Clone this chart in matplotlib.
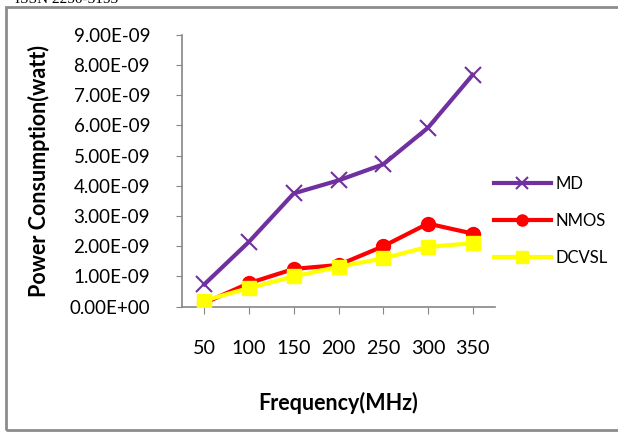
import matplotlib.pyplot as plt
import matplotlib.patches as mpatches
import numpy as np

plt.rcParams['font.family'] = ['Lato', 'DejaVu Sans']

freq = ["50", "100", "150", "200", "250", "300", "350"]
md = [0.74e-9, 2.15e-9, 3.75e-9, 4.18e-9, 4.71e-9, 5.92e-9, 7.67e-9]
nmos = [0.12e-9, 0.78e-9, 1.25e-9, 1.38e-9, 2.0e-9, 2.75e-9, 2.42e-9]
dcvsl = [0.2e-9, 0.62e-9, 1.0e-9, 1.32e-9, 1.6e-9, 1.98e-9, 2.1e-9]

fig = plt.figure(figsize=(6.18, 4.33), dpi=100)
ax = fig.add_axes([182/618, 1 - 306.7/433, 313/618, 272/433])

# outer chart frame (runs off the right edge)
fig.patches.append(mpatches.Rectangle((6/618, 1 - 429.5/433), 630/618, 422.5/433,
                                      transform=fig.transFigure, fill=False,
                                      edgecolor="#8c8c8c", linewidth=2))
fig.text(118/618, 1 - 3/433, "ISSN 2250-3153", ha="right", va="baseline",
         fontsize=11, family="Liberation Serif")

x = np.arange(len(freq))
ax.plot(x, md, color="#7030A0", lw=3, marker="x", ms=11, mew=1.5, label="MD", zorder=3)
ax.plot(x, nmos, color="#FF0000", lw=3, marker="o", ms=10, label="NMOS", zorder=4)
ax.plot(x, dcvsl, color="#FFFF00", lw=3, marker="s", ms=10, label="DCVSL", zorder=5)

ax.set_xlim(-0.5, 6.5)
ax.set_ylim(0, 9e-9)
yt = np.arange(0, 9.5e-9, 1e-9)
ax.set_yticks(yt)
ax.set_yticklabels([f"{v:.2E}" for v in yt])
ax.set_xticks(x)
ax.set_xticklabels(freq)

for s in ["top", "right"]:
    ax.spines[s].set_visible(False)
for s in ["left", "bottom"]:
    ax.spines[s].set_color("#868686")
    ax.spines[s].set_linewidth(1.2)
ax.tick_params(axis="y", length=4, color="#868686", pad=19, labelsize=13.5)
ax.tick_params(axis="x", length=5, color="#868686", pad=19, labelsize=14.2)

ax.set_ylabel("Power Consumption(watt)", fontsize=15.5, fontweight="bold", labelpad=14)
ax.set_xlabel("Frequency(MHz)", fontsize=15.5, fontweight="bold", labelpad=25)

ax.legend(loc="upper left", bbox_to_anchor=(479/618, 1 - 161/433),
          bbox_transform=fig.transFigure, frameon=False, fontsize=12,
          handlelength=3.4, labelspacing=1.25, markerscale=0.8, handletextpad=0.3)

fig.savefig("out.png", dpi=100)
